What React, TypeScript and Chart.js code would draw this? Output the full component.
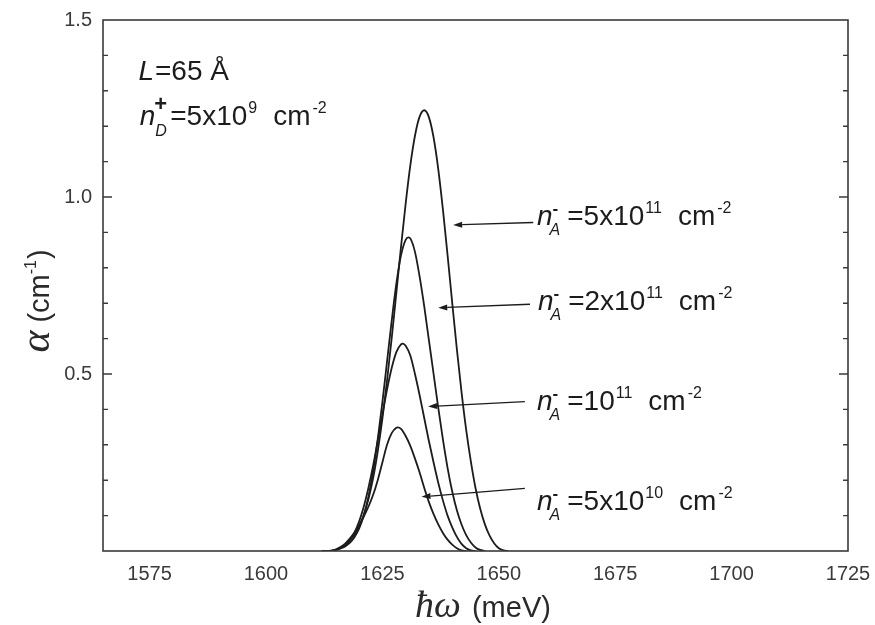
import React, { useEffect, useRef } from 'react';
import { Chart, registerables } from 'chart.js';
Chart.register(...registerables);

const SANS = "'Liberation Sans', Arial, sans-serif";
const SERIF = "'Liberation Serif', 'DejaVu Serif', serif";
const INK = '#1c1c1c';
const AXIS = '#3a3a3a';

// axis ranges and tick labels
const xRange = [1565, 1725];
const yRange = [0, 1.5];
const xTickValues = [1575, 1600, 1625, 1650, 1675, 1700, 1725];
const yTickValues = [0.5, 1.0, 1.5];
const xMinorStep = 12.5;
const yMinorStep = 0.1;

// series: n_A^- = 5x10^11 cm^-2
const energy5e11 = [1612, 1613, 1614, 1615, 1616, 1617, 1618, 1619, 1620, 1621, 1622, 1623, 1624, 1625, 1626, 1627, 1628, 1629, 1630, 1631, 1632, 1633, 1634, 1635, 1636, 1637, 1638, 1639, 1640, 1641, 1642, 1643, 1644, 1645, 1646, 1647, 1648, 1649, 1650, 1651, 1652];
const alpha5e11 = [0.0, 0.0, 0.001, 0.004, 0.009, 0.017, 0.029, 0.046, 0.069, 0.102, 0.146, 0.205, 0.281, 0.373, 0.481, 0.601, 0.729, 0.859, 0.981, 1.089, 1.173, 1.227, 1.245, 1.225, 1.168, 1.079, 0.965, 0.836, 0.701, 0.57, 0.449, 0.342, 0.253, 0.178, 0.12, 0.076, 0.044, 0.022, 0.008, 0.002, 0.0];

// series: n_A^- = 2x10^11 cm^-2
const energy2e11 = [1612, 1613, 1614, 1615, 1616, 1617, 1618, 1619, 1620, 1621, 1622, 1623, 1624, 1625, 1626, 1627, 1628, 1629, 1630, 1630.6, 1631, 1632, 1633, 1634, 1635, 1636, 1637, 1638, 1639, 1640, 1641, 1642, 1643, 1644, 1645, 1646, 1647];
const alpha2e11 = [0.0, 0.0, 0.0, 0.003, 0.007, 0.013, 0.023, 0.039, 0.063, 0.1, 0.153, 0.224, 0.315, 0.42, 0.535, 0.65, 0.755, 0.835, 0.879, 0.886, 0.883, 0.845, 0.775, 0.69, 0.595, 0.5, 0.405, 0.315, 0.235, 0.168, 0.115, 0.075, 0.045, 0.024, 0.01, 0.003, 0.0];

// series: n_A^- = 10^11 cm^-2
const energy1e11 = [1612, 1613, 1614, 1615, 1616, 1617, 1618, 1619, 1620, 1621, 1622, 1623, 1624, 1625, 1626, 1627, 1628, 1629, 1629.4, 1630, 1631, 1632, 1633, 1634, 1635, 1636, 1637, 1638, 1639, 1640, 1641, 1642, 1643, 1644, 1645];
const alpha1e11 = [0.0, 0.0, 0.0, 0.003, 0.008, 0.017, 0.031, 0.052, 0.083, 0.125, 0.178, 0.24, 0.311, 0.385, 0.456, 0.517, 0.562, 0.584, 0.586, 0.58, 0.552, 0.5, 0.44, 0.375, 0.31, 0.25, 0.193, 0.143, 0.1, 0.067, 0.04, 0.02, 0.008, 0.002, 0.0];

// series: n_A^- = 5x10^10 cm^-2
const energy5e10 = [1612, 1613, 1614, 1615, 1616, 1617, 1618, 1619, 1620, 1621, 1622, 1623, 1624, 1625, 1626, 1627, 1628, 1628.3, 1629, 1630, 1631, 1632, 1633, 1634, 1635, 1636, 1637, 1638, 1639, 1640, 1641, 1642, 1643];
const alpha5e10 = [0.0, 0.0, 0.0, 0.004, 0.011, 0.021, 0.035, 0.052, 0.073, 0.097, 0.125, 0.158, 0.2, 0.25, 0.3, 0.333, 0.348, 0.349, 0.345, 0.325, 0.297, 0.261, 0.222, 0.178, 0.138, 0.104, 0.075, 0.051, 0.032, 0.018, 0.008, 0.002, 0.0];

// curve annotations (label text pieces and anchor positions in data units)
const labelMantissa = ['5x10', '2x10', '10', '5x10'];
const labelExponent = ['11', '11', '11', '10'];
const labelX = [1658.2, 1658.4, 1658.2, 1658.2];
const labelY = [0.921, 0.681, 0.398, 0.116];
const arrowFromX = [1657.4, 1656.7, 1655.6, 1655.6];
const arrowFromY = [0.928, 0.697, 0.422, 0.177];
const arrowToX = [1640.2, 1637.0, 1634.8, 1633.4];
const arrowToY = [0.921, 0.687, 0.408, 0.153];

// parameter notes (top left)
const noteX = [1572.6, 1572.9];
const noteY = [1.331, 1.203];

type Part = {
  t?: string;
  font: string;
  dy?: number;
  gap?: number;
  sup?: string;
  sub?: string;
  supFont?: string;
  subFont?: string;
  supDx?: number;
  supDy?: number;
  subDx?: number;
  subDy?: number;
};

function drawParts(ctx: CanvasRenderingContext2D, x: number, y: number, parts: Part[], measureOnly = false): number {
  let cx = x;
  for (const p of parts) {
    if (p.sup !== undefined || p.sub !== undefined) {
      let w = 0;
      if (p.sup) {
        ctx.font = p.supFont || p.font;
        const dx = p.supDx || 0;
        if (!measureOnly) ctx.fillText(p.sup, cx + dx, y + (p.supDy || 0));
        w = Math.max(w, ctx.measureText(p.sup).width + dx);
      }
      if (p.sub) {
        ctx.font = p.subFont || p.font;
        const dx = p.subDx || 0;
        if (!measureOnly) ctx.fillText(p.sub, cx + dx, y + (p.subDy || 0));
        w = Math.max(w, ctx.measureText(p.sub).width + dx);
      }
      cx += w + (p.gap || 0);
    } else {
      ctx.font = p.font;
      if (!measureOnly) ctx.fillText(p.t || '', cx, y + (p.dy || 0));
      cx += ctx.measureText(p.t || '').width + (p.gap || 0);
    }
  }
  return cx - x;
}

const BIG = `28px ${SANS}`;
const BIG_I = `italic 28px ${SANS}`;
const SMALL = `16px ${SANS}`;
const SMALL_I = `italic 16px ${SANS}`;

const decorPlugin = {
  id: 'decor',
  afterDatasetsDraw(chart: any) {
    const { ctx, chartArea } = chart;
    const xs = chart.scales.x;
    const ys = chart.scales.y;
    const { left, right, top, bottom } = chartArea;
    ctx.save();

    // frame
    ctx.strokeStyle = AXIS;
    ctx.lineWidth = 1.6;
    ctx.strokeRect(left, top, right - left, bottom - top);

    // inward ticks
    ctx.lineWidth = 1.4;
    ctx.beginPath();
    for (let v = xRange[0]; v <= xRange[1] + 1e-6; v += xMinorStep / 2) {
      const rem = ((v - 1575) % xMinorStep + xMinorStep) % xMinorStep;
      if (Math.abs(rem) > 1e-6 && Math.abs(rem - xMinorStep) > 1e-6) continue;
      const isMajor = xTickValues.some((t) => Math.abs(t - v) < 1e-6);
      const len = isMajor ? 9 : 5;
      const px = xs.getPixelForValue(v);
      if (px <= left + 0.5 || px >= right - 0.5) continue;
      ctx.moveTo(px, bottom);
      ctx.lineTo(px, bottom - len);
      ctx.moveTo(px, top);
      ctx.lineTo(px, top + len);
    }
    for (let k = 1; k * yMinorStep < yRange[1] - 1e-6; k++) {
      const v = k * yMinorStep;
      const isMajor = yTickValues.some((t) => Math.abs(t - v) < 1e-6);
      const len = isMajor ? 9 : 5;
      const py = ys.getPixelForValue(v);
      ctx.moveTo(left, py);
      ctx.lineTo(left + len, py);
      ctx.moveTo(right, py);
      ctx.lineTo(right - len, py);
    }
    ctx.stroke();

    // arrows
    ctx.strokeStyle = INK;
    ctx.fillStyle = INK;
    ctx.lineWidth = 1.3;
    for (let i = 0; i < arrowFromX.length; i++) {
      const x1 = xs.getPixelForValue(arrowFromX[i]);
      const y1 = ys.getPixelForValue(arrowFromY[i]);
      const x2 = xs.getPixelForValue(arrowToX[i]);
      const y2 = ys.getPixelForValue(arrowToY[i]);
      const ang = Math.atan2(y2 - y1, x2 - x1);
      const hl = 9, hw = 3;
      const bx = x2 - hl * Math.cos(ang);
      const by = y2 - hl * Math.sin(ang);
      ctx.beginPath();
      ctx.moveTo(x1, y1);
      ctx.lineTo(bx, by);
      ctx.stroke();
      ctx.beginPath();
      ctx.moveTo(x2, y2);
      ctx.lineTo(bx + hw * Math.sin(ang), by - hw * Math.cos(ang));
      ctx.lineTo(bx - hw * Math.sin(ang), by + hw * Math.cos(ang));
      ctx.closePath();
      ctx.fill();
    }

    // curve labels
    ctx.fillStyle = INK;
    ctx.textBaseline = 'alphabetic';
    ctx.textAlign = 'left';
    for (let i = 0; i < labelX.length; i++) {
      const px = xs.getPixelForValue(labelX[i]);
      const py = ys.getPixelForValue(labelY[i]);
      drawParts(ctx, px, py, [
        { t: 'n', font: BIG_I, gap: -1 },
        { sup: '-', sub: 'A', font: SMALL, supFont: `bold 17px ${SANS}`, subFont: SMALL_I, supDx: 1, supDy: -11, subDx: -2, subDy: 10, gap: 7 },
        { t: '=' + labelMantissa[i], font: BIG, gap: 1 },
        { t: labelExponent[i], font: SMALL, dy: -12, gap: 16 },
        { t: 'cm', font: BIG, gap: 2 },
        { t: '-2', font: SMALL, dy: -12 },
      ]);
    }

    // notes
    {
      const px = xs.getPixelForValue(noteX[0]);
      const py = ys.getPixelForValue(noteY[0]);
      drawParts(ctx, px, py, [
        { t: 'L', font: BIG_I, gap: 1 },
        { t: '=65 \u00C5', font: BIG },
      ]);
      const px2 = xs.getPixelForValue(noteX[1]);
      const py2 = ys.getPixelForValue(noteY[1]);
      drawParts(ctx, px2, py2, [
        { t: 'n', font: BIG_I, gap: -1 },
        { sup: '+', sub: 'D', font: SMALL, supFont: `bold 22px ${SANS}`, subFont: SMALL_I, supDx: 0, supDy: -14, subDx: 1, subDy: 11, gap: 3 },
        { t: '=5x10', font: BIG, gap: 1 },
        { t: '9', font: SMALL, dy: -12, gap: 16 },
        { t: 'cm', font: BIG, gap: 2 },
        { t: '-2', font: SMALL, dy: -12 },
      ]);
    }

    // x axis title
    {
      const parts: Part[] = [
        { t: '\u0127\u03C9', font: `italic 38px ${SERIF}`, gap: 11 },
        { t: '(meV)', font: `29px ${SANS}` },
      ];
      ctx.fillStyle = '#2a2a2a';
      const w = drawParts(ctx, 0, 0, parts, true);
      const cx = 483;
      drawParts(ctx, cx - w / 2, 617, parts);
    }

    // y axis title
    {
      const parts: Part[] = [
        { t: '\u03B1', font: `italic 42px ${SERIF}`, gap: 8 },
        { t: '(cm', font: `29px ${SANS}` },
        { t: '-1', font: `16px ${SANS}`, dy: -13, gap: 1 },
        { t: ')', font: `29px ${SANS}` },
      ];
      const w = drawParts(ctx, 0, 0, parts, true);
      ctx.save();
      ctx.translate(49, 301);
      ctx.rotate(-Math.PI / 2);
      ctx.fillStyle = '#2a2a2a';
      drawParts(ctx, -w / 2, 0, parts);
      ctx.restore();
    }

    ctx.restore();
  },
};

export default function App() {
  const canvasRef = useRef<HTMLCanvasElement | null>(null);

  useEffect(() => {
    if (!canvasRef.current) return;
    const seriesX = [energy5e11, energy2e11, energy1e11, energy5e10];
    const seriesY = [alpha5e11, alpha2e11, alpha1e11, alpha5e10];
    const datasets = seriesX.map((xs, s) => ({
      label: 'n_A = ' + labelMantissa[s] + '^' + labelExponent[s],
      data: xs.map((x, i) => ({ x, y: seriesY[s][i] })),
      borderColor: INK,
      borderWidth: 1.8,
      pointRadius: 0,
      fill: false,
      cubicInterpolationMode: 'monotone' as const,
    }));

    const chart = new Chart(canvasRef.current, {
      type: 'line',
      data: { datasets },
      options: {
        animation: false,
        responsive: true,
        maintainAspectRatio: false,
        layout: { padding: { left: 0, right: 27, top: 20, bottom: 0 } },
        plugins: { legend: { display: false }, tooltip: { enabled: false } },
        scales: {
          x: {
            type: 'linear',
            min: xRange[0],
            max: xRange[1],
            afterBuildTicks: (scale: any) => {
              scale.ticks = xTickValues.map((v) => ({ value: v }));
            },
            afterFit: (scale: any) => {
              scale.height = 74;
              scale.paddingRight = 0;
              scale.paddingLeft = 0;
            },
            ticks: {
              font: { family: SANS, size: 20 },
              color: '#3a3a3a',
              padding: 11,
              maxRotation: 0,
              autoSkip: false,
              callback: (v: any) => String(v),
            },
            grid: { display: false, drawTicks: false },
            border: { display: false },
          },
          y: {
            type: 'linear',
            min: yRange[0],
            max: yRange[1],
            afterBuildTicks: (scale: any) => {
              scale.ticks = yTickValues.map((v) => ({ value: v }));
            },
            afterFit: (scale: any) => {
              scale.width = 103;
              scale.paddingTop = 0;
              scale.paddingBottom = 0;
            },
            ticks: {
              font: { family: SANS, size: 20 },
              color: '#3a3a3a',
              padding: 11,
              autoSkip: false,
              callback: (v: any) => Number(v).toFixed(1),
            },
            grid: { display: false, drawTicks: false },
            border: { display: false },
          },
        },
      },
      plugins: [decorPlugin],
    });
    return () => chart.destroy();
  }, []);

  return (
    <div style={{ position: 'fixed', left: 0, top: 0, width: 875, height: 625, background: '#fff' }}>
      <canvas ref={canvasRef} />
    </div>
  );
}
